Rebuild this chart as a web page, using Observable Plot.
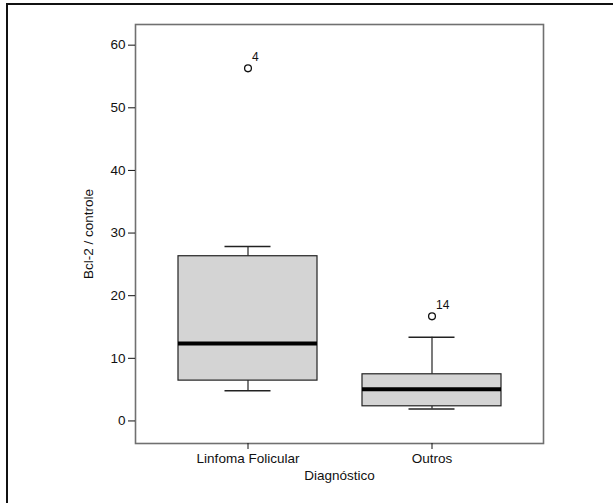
<!DOCTYPE html>
<html>
<head>
<meta charset="utf-8">
<script src="https://cdn.jsdelivr.net/npm/d3@7"></script>
<script src="https://cdn.jsdelivr.net/npm/@observablehq/plot@0.6"></script>
<style>
  html, body { margin: 0; padding: 0; background: #fff; }
  #wrap { position: relative; width: 613px; height: 503px; overflow: hidden; }
  #border { position: absolute; left: 6px; top: 3px; right: -10px; bottom: -10px;
            border-left: 2.5px solid #111; border-top: 2.5px solid #111; pointer-events: none; }
</style>
</head>
<body>
<div id="wrap"><div id="border"></div></div>
<script>
const categories = ["Linfoma Folicular", "Outros"];
const lowWhisker = [4.84, 1.91];
const q1 = [6.44, 2.34];
const median = [12.35, 5.05];
const q3 = [26.3, 7.45];
const highWhisker = [27.85, 13.36];
const outlierCategory = ["Linfoma Folicular", "Outros"];
const outlierValue = [56.3, 16.7];
const outlierLabel = ["4", "14"];
const yTicks = [0, 10, 20, 30, 40, 50, 60];

const boxes = categories.map((c, i) => ({
  cat: c, lo: lowWhisker[i], q1: q1[i], med: median[i], q3: q3[i], hi: highWhisker[i]
}));
const outliers = outlierCategory.map((c, i) => ({cat: c, v: outlierValue[i], label: outlierLabel[i]}));

const bw = 139;
const capInset = (bw - 46) / 2;

const chart = Plot.plot({
  width: 613,
  height: 503,
  marginLeft: 135,
  marginRight: 70,
  marginTop: 24,
  marginBottom: 60,
  style: {fontFamily: "'Liberation Sans', Arial, sans-serif", fontSize: "13.5px", color: "#000", background: "transparent"},
  x: {type: "band", domain: categories, paddingInner: 0.246, paddingOuter: 0.229},
  y: {domain: [-3.6, 63.3]},
  marks: [
    Plot.ruleX(boxes, {x: "cat", y1: "q3", y2: "hi", stroke: "#222", strokeWidth: 1.2}),
    Plot.ruleX(boxes, {x: "cat", y1: "lo", y2: "q1", stroke: "#222", strokeWidth: 1.2}),
    Plot.tickY(boxes, {x: "cat", y: "hi", stroke: "#222", strokeWidth: 1.5, insetLeft: capInset, insetRight: capInset}),
    Plot.tickY(boxes, {x: "cat", y: "lo", stroke: "#222", strokeWidth: 1.5, insetLeft: capInset, insetRight: capInset}),
    Plot.barY(boxes, {x: "cat", y1: "q1", y2: "q3", fill: "#d4d4d4", stroke: "#222", strokeWidth: 1.2}),
    Plot.tickY(boxes, {x: "cat", y: "med", stroke: "#000", strokeWidth: 4}),
    Plot.dot(outliers, {x: "cat", y: "v", r: 3.4, stroke: "#111", strokeWidth: 1.3, fill: "#fff"}),
    Plot.text(outliers, {x: "cat", y: "v", text: "label", dx: 4, dy: -11, textAnchor: "start", fontSize: 12, fill: "#111"}),
    Plot.frame({stroke: "#707070", strokeWidth: 1.6}),
    Plot.axisY({ticks: yTicks, tickSize: 7, tickPadding: 3, fontSize: 13.5, stroke: "#111", fill: "#111",
      label: "Bcl-2 / controle", labelAnchor: "center", labelArrow: "none", labelOffset: 52}),
    Plot.axisX({tickSize: 6, tickPadding: 4, fontSize: 13.5, stroke: "#111", fill: "#111",
      label: "Diagnóstico", labelAnchor: "center", labelArrow: "none", labelOffset: 36})
  ]
});
document.getElementById("wrap").prepend(chart);
</script>
</body>
</html>
